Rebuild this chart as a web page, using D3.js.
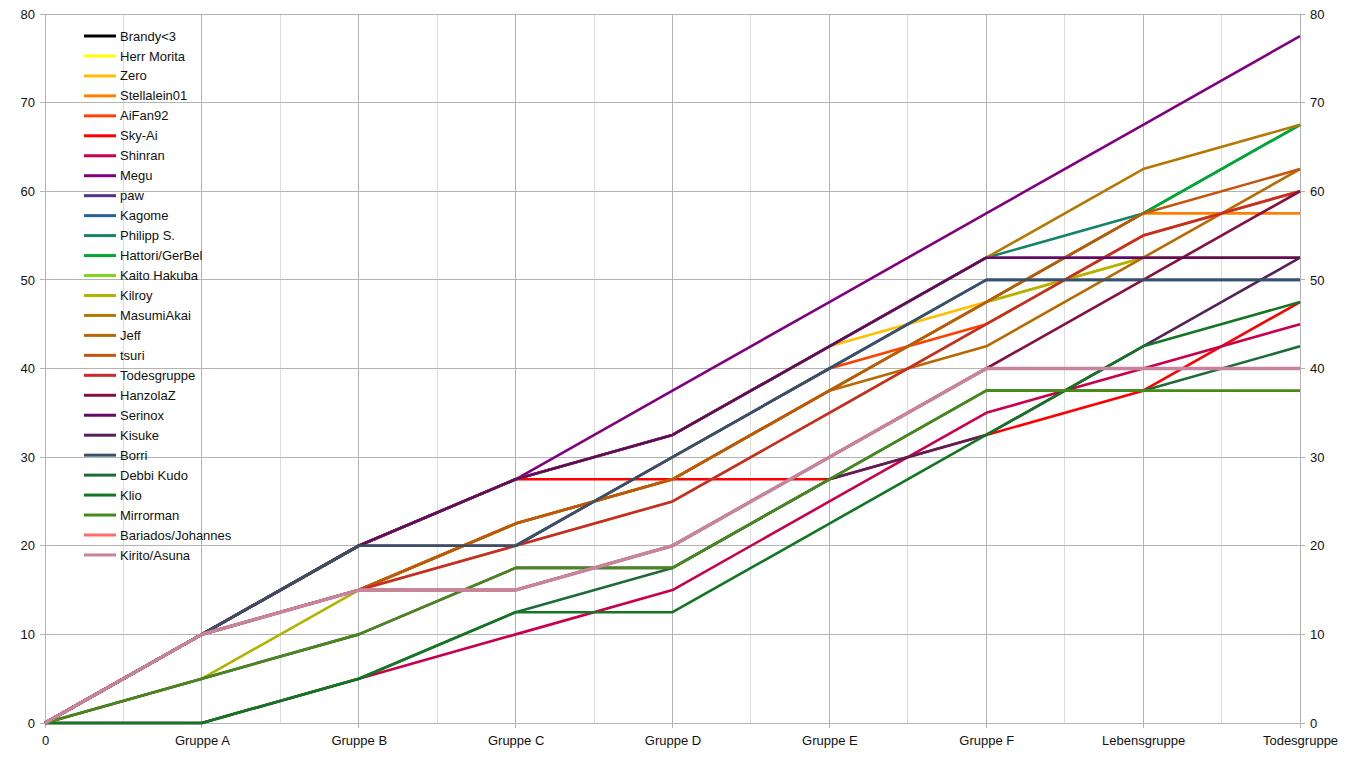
<!DOCTYPE html>
<html><head><meta charset="utf-8">
<script src="https://cdn.jsdelivr.net/npm/d3@7"></script>
<style>html,body{margin:0;padding:0;background:#fff;}svg{display:block;font-family:"Liberation Sans",Arial,sans-serif;}</style>
</head><body><svg id="c" width="1355" height="765"></svg>
<script>
const categories = ["0","Gruppe A","Gruppe B","Gruppe C","Gruppe D","Gruppe E","Gruppe F","Lebensgruppe","Todesgruppe"];
const yTicks = [0,10,20,30,40,50,60,70,80];
const seriesNames = ["Brandy<3","Herr Morita","Zero","Stellalein01","AiFan92","Sky-Ai","Shinran","Megu","paw","Kagome","Philipp S.","Hattori/GerBel","Kaito Hakuba","Kilroy","MasumiAkai","Jeff","tsuri","Todesgruppe","HanzolaZ","Serinox","Kisuke","Borri","Debbi Kudo","Klio","Mirrorman","Bariados/Johannes","Kirito/Asuna"];
const brandy      = [0,10,15,15,20,30,40,40,40];
const herrMorita  = [0,10,15,15,20,30,40,40,40];
const zero        = [0,10,20,27.5,32.5,42.5,47.5,52.5,52.5];
const stellalein  = [0,10,15,22.5,27.5,37.5,47.5,57.5,57.5];
const aiFan       = [0,10,20,20,30,40,45,55,60];
const skyAi       = [0,10,20,27.5,27.5,27.5,32.5,37.5,47.5];
const shinran     = [0,0,5,10,15,25,35,40,45];
const megu        = [0,10,20,27.5,37.5,47.5,57.5,67.5,77.5];
const paw         = [0,10,20,27.5,32.5,42.5,52.5,52.5,52.5];
const kagome      = [0,10,20,20,30,40,50,50,50];
const philipp     = [0,10,20,27.5,32.5,42.5,52.5,57.5,67.5];
const hattori     = [0,10,15,22.5,27.5,37.5,47.5,57.5,67.5];
const kaito       = [0,10,15,20,25,35,45,55,60];
const kilroy      = [0,5,15,22.5,27.5,37.5,47.5,52.5,52.5];
const masumi      = [0,10,20,27.5,32.5,42.5,52.5,62.5,67.5];
const jeff        = [0,10,15,22.5,27.5,37.5,42.5,52.5,62.5];
const tsuri       = [0,10,15,22.5,27.5,37.5,47.5,57.5,62.5];
const todesgruppe = [0,10,15,20,25,35,45,55,60];
const hanzolaZ    = [0,10,15,15,20,30,40,50,60];
const serinox     = [0,10,20,27.5,32.5,42.5,52.5,52.5,52.5];
const kisuke      = [0,5,10,17.5,17.5,27.5,32.5,42.5,52.5];
const borri       = [0,10,20,20,30,40,50,50,50];
const debbi       = [0,0,5,12.5,17.5,27.5,37.5,37.5,42.5];
const klio        = [0,0,5,12.5,12.5,22.5,32.5,42.5,47.5];
const mirrorman   = [0,5,10,17.5,17.5,27.5,37.5,37.5,37.5];
const bariados    = [0,10,15,15,20,30,40,40,40];
const kirito      = [0,10,15,15,20,30,40,40,40];
const seriesValues = [brandy,herrMorita,zero,stellalein,aiFan,skyAi,shinran,megu,paw,kagome,philipp,hattori,kaito,kilroy,masumi,jeff,tsuri,todesgruppe,hanzolaZ,serinox,kisuke,borri,debbi,klio,mirrorman,bariados,kirito];
const seriesColors = ["#000000","#ffff00","#ffbf00","#ff8000","#ff4000","#ff0000","#c9004c","#800080","#55308d","#2a6099","#158466","#00a933","#81d41a","#b2b200","#b47804","#b86a00","#c3560c","#d0282a","#861141","#650865","#55215b","#3a5068","#1e6a39","#127622","#468a1a","#ff6d6d","#c8849f"];

const svg = d3.select("#c");
const L = 45, R = 1300, T = 14, B = 723;
const x = d3.scalePoint().domain(categories).range([L, R]).padding(0);
const y = d3.scaleLinear().domain([0, 80]).range([B, T]);

const step = x.step();
const g = svg.append("g");
categories.slice(0, -1).forEach(c => {
  g.append("line").attr("x1", x(c) + step/2).attr("x2", x(c) + step/2).attr("y1", T).attr("y2", B)
    .attr("stroke", "#dddddd").attr("stroke-width", 1).attr("shape-rendering","crispEdges");
});
categories.forEach(c => {
  g.append("line").attr("x1", x(c)).attr("x2", x(c)).attr("y1", T).attr("y2", B + 5)
    .attr("stroke", "#b3b3b3").attr("stroke-width", 1).attr("shape-rendering","crispEdges");
});
yTicks.forEach(v => {
  g.append("line").attr("x1", L - 5).attr("x2", R + 5).attr("y1", y(v)).attr("y2", y(v))
    .attr("stroke", "#b3b3b3").attr("stroke-width", 1).attr("shape-rendering","crispEdges");
});

const yAxisL = d3.axisLeft(y).tickValues(yTicks).tickSize(0).tickPadding(10);
const yAxisR = d3.axisRight(y).tickValues(yTicks).tickSize(0).tickPadding(10);
const xAxis = d3.axisBottom(x).tickSize(0).tickPadding(13);
const styleAxis = sel => { sel.select(".domain").remove(); sel.selectAll("text").attr("font-size", 13).attr("fill", "#111").attr("font-family", '"Liberation Sans", Arial, sans-serif'); };
svg.append("g").attr("transform", `translate(${L},0)`).call(yAxisL).call(styleAxis);
svg.append("g").attr("transform", `translate(${R},0)`).call(yAxisR).call(styleAxis);
svg.append("g").attr("transform", `translate(0,${B})`).call(xAxis).call(styleAxis);

const line = d3.line().x((d, i) => x(categories[i])).y(d => y(d));
seriesValues.forEach((vals, i) => {
  svg.append("path").datum(vals).attr("d", line).attr("fill", "none")
    .attr("stroke", seriesColors[i]).attr("stroke-width", i === seriesValues.length - 1 ? 3.4 : 2.6)
    .attr("stroke-linejoin", "round");
});

const lg = svg.append("g");
seriesNames.forEach((n, i) => {
  const yy = 36 + i * 19.96;
  lg.append("line").attr("x1", 84).attr("x2", 116).attr("y1", yy).attr("y2", yy)
    .attr("stroke", seriesColors[i]).attr("stroke-width", 3);
  lg.append("text").attr("x", 120).attr("y", yy).attr("dy", "0.35em").attr("font-size", 13)
    .attr("fill", "#111").text(n);
});
</script></body></html>
